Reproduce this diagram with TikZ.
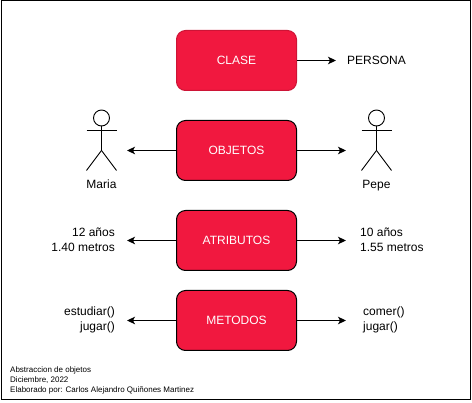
\documentclass[tikz,border=0pt]{standalone}
\usepackage{fontspec}
\setmainfont{Liberation Sans}
\usetikzlibrary{positioning}
\usetikzlibrary{arrows.meta}

\definecolor{boxred}{RGB}{241,24,63}
\tikzset{
box/.style={draw=black,line width=1pt,fill=boxred,rounded corners=9pt,minimum width=120pt,minimum height=60pt,inner sep=0pt,text=white,font=\fontsize{12}{12}\selectfont},
lbl/.style={font=\fontsize{12}{15}\selectfont,inner sep=0pt},
link/.style={line width=1pt,-{Stealth[length=8pt,width=7.5pt,inset=2pt]}},
stick/.style={line width=0.9pt},
}

\begin{document}
\begin{tikzpicture}[x=1pt,y=-1pt]
\useasboundingbox (0,0) rectangle (472,403);
\draw[line width=1.1pt] (1.5,0.5) rectangle (470.5,399.5);

\node[box,draw=boxred!85!black] (clase) at (236.5,60.5) {CLASE};
\node[box] (objetos) at (236.5,150.5) {OBJETOS};
\node[box] (atributos) at (236.5,240.5) {ATRIBUTOS};
\node[box] (metodos) at (236.5,320.5) {METODOS};

\node[lbl] (persona) at (376.5,60) {PERSONA};
\node[lbl,anchor=base] (maria) at (101.5,188.5) {Maria};
\node[lbl,anchor=base] (pepe) at (376.5,188.5) {Pepe};
\node[lbl,align=right,anchor=east] (edad1) at (115,240) {12 años\\1.40 metros};
\node[lbl,align=left,anchor=west] (edad2) at (360,240) {10 años\\1.55 metros};
\node[lbl,align=right,anchor=east] (metodos1) at (115,320) {estudiar()\\jugar()};
\node[lbl,align=left,anchor=west] (metodos2) at (363,320) {comer()\\jugar()};

\coordinate (c1) at (336,60.5);
\coordinate (c2) at (127,150.5);
\coordinate (c3) at (346,150.5);
\coordinate (c4) at (127,240.5);
\coordinate (c5) at (346,240.5);
\coordinate (c6) at (127,320.5);
\coordinate (c7) at (346,320.5);
\draw[link] (clase) -- (c1);
\draw[link] (objetos) -- (c2);
\draw[link] (objetos) -- (c3);
\draw[link] (atributos) -- (c4);
\draw[link] (atributos) -- (c5);
\draw[link] (metodos) -- (c6);
\draw[link] (metodos) -- (c7);

% stick figures
\foreach \x in {101.5,376.5} {
\draw[stick] (\x,118) circle (8);
\draw[stick] (\x,126) -- (\x,150.5) -- ++(-15,20);
\draw[stick] (\x,150.5) -- ++(15,20);
\draw[stick] (\x-15,130) -- (\x+15,130);
}

\node[font=\fontsize{8}{10}\selectfont,align=left,inner sep=0pt,anchor=west] (nota) at (10,380.5) {Abstraccion de objetos\\Diciembre, 2022\\Elaborado por: Carlos Alejandro Quiñones Martinez};
\end{tikzpicture}
\end{document}
